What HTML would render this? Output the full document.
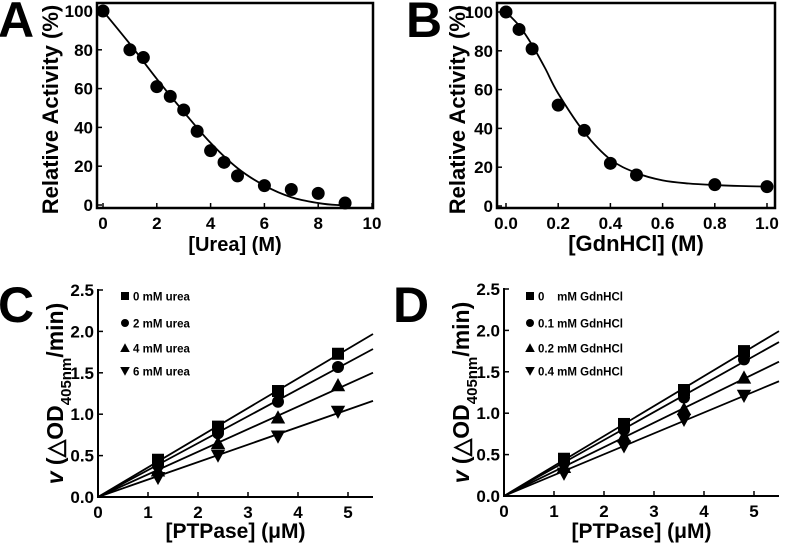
<!DOCTYPE html>
<html><head><meta charset="utf-8">
<style>
html,body{margin:0;padding:0;background:#fff;width:787px;height:548px;overflow:hidden}
svg{display:block;font-family:"Liberation Sans",Arial,sans-serif;font-weight:bold}
</style></head>
<body>
<svg id="fig" width="787" height="548" viewBox="0 0 787 548"></svg>
<script>
// Panel A data
const aX = [0,1,1.5,2,2.5,3,3.5,4,4.5,5,6,7,8,9];
const aY = [100,80,76,61,56,49,38,28,22,15,10,8,6,1];
const aFitX = [0,1,2,3,4,5,6,7,8,8.7,9];
const aFitY = [100,83,65,48,32,19,10,4,1,0,0.3];
const aXTicks = [0,2,4,6,8,10];
const aYTicks = [0,20,40,60,80,100];
// Panel B data
const bX = [0,0.05,0.1,0.2,0.3,0.4,0.5,0.8,1.0];
const bY = [100,91,81,52,39,22,16,11,10];
const bFitX = [0,0.05,0.1,0.15,0.2,0.3,0.4,0.5,0.6,0.7,0.8,0.9,1.0];
const bFitY = [100,93,83,71,58,38,24,17,13.2,11.6,10.8,10.3,10];
const bXTicks = [0,0.2,0.4,0.6,0.8,1.0];
const bYTicks = [0,20,40,60,80,100];
// Panel C data
const cX = [1.2,2.4,3.6,4.8];
const cY0 = [0.45,0.85,1.28,1.73];
const cY2 = [0.38,0.77,1.15,1.57];
const cY4 = [0.32,0.65,0.96,1.35];
const cY6 = [0.23,0.50,0.73,1.03];
const cSlopes = [0.358,0.325,0.273,0.211];
const cLabels = ["0 mM urea","2 mM urea","4 mM urea","6 mM urea"];
// Panel D data
const dX = [1.2,2.4,3.6,4.8];
const dY0 = [0.45,0.87,1.28,1.75];
const dY1 = [0.40,0.80,1.19,1.65];
const dY2 = [0.35,0.72,1.05,1.43];
const dY4 = [0.27,0.60,0.92,1.21];
const dSlopes = [0.362,0.338,0.295,0.252];
const dLabels = ["0    mM GdnHCl","0.1 mM GdnHCl","0.2 mM GdnHCl","0.4 mM GdnHCl"];
const kXTicks = [0,1,2,3,4,5];
const kYTicks = [0,0.5,1.0,1.5,2.0,2.5];

const NS="http://www.w3.org/2000/svg";
const svg=document.getElementById('fig');
function el(tag,attrs,parent){const e=document.createElementNS(NS,tag);for(const k in attrs)e.setAttribute(k,attrs[k]);(parent||svg).appendChild(e);return e;}
function txt(s,attrs,parent){const e=el('text',attrs,parent);e.textContent=s;return e;}
function lin(d0,d1,p0,p1){return v=>p0+(v-d0)/(d1-d0)*(p1-p0);}
function smooth(pts){let d=`M${pts[0][0]},${pts[0][1]}`;for(let i=0;i<pts.length-1;i++){const p0=pts[i-1]||pts[i],p1=pts[i],p2=pts[i+1],p3=pts[i+2]||p2;d+=` C${p1[0]+(p2[0]-p0[0])/6},${p1[1]+(p2[1]-p0[1])/6} ${p2[0]-(p3[0]-p1[0])/6},${p2[1]-(p3[1]-p1[1])/6} ${p2[0]},${p2[1]}`;}return d;}
function marker(kind,x,y,s,parent){
  if(kind==='square') return el('rect',{x:x-s,y:y-s,width:2*s,height:2*s,fill:'#000'},parent);
  if(kind==='circle') return el('circle',{cx:x,cy:y,r:s,fill:'#000'},parent);
  if(kind==='up') return el('polygon',{points:`${x},${y-s*1.2} ${x-s*1.2},${y+s} ${x+s*1.2},${y+s}`,fill:'#000'},parent);
  return el('polygon',{points:`${x-s*1.2},${y-s} ${x+s*1.2},${y-s} ${x},${y+s*1.2}`,fill:'#000'},parent);
}

// ---------- Panel A / B ----------
function curvePanel(o){
  const g=el('g',{});
  
  
  const sx=lin(o.xd[0],o.xd[1],o.xp[0],o.xp[1]), sy=lin(0,100,o.y0,o.y100);
  const fr=el('rect',{x:o.box[0],y:o.box[1],width:o.box[2]-o.box[0],height:o.box[3]-o.box[1],fill:'none',stroke:'#000','stroke-width':2.5},g);
  
  
  o.xt.forEach(t=>{el('line',{x1:sx(t),x2:sx(t),y1:o.box[3],y2:o.box[3]-5,stroke:'#000','stroke-width':1.5},g);
    const l=txt(o.fmtX(t),{x:sx(t),y:o.box[3]+21,'font-size':17,'text-anchor':'middle'},g);
    
    });
  o.yt.forEach(t=>{el('line',{x1:o.box[0],x2:o.box[0]+5,y1:sy(t),y2:sy(t),stroke:'#000','stroke-width':1.5},g);
    const l=txt(String(t),{x:o.box[0]-4,y:sy(t)+6,'font-size':17,'text-anchor':'end'},g);
    
    });
  const pts=o.fx.map((x,i)=>[sx(x),sy(o.fy[i])]);
  const c=el('path',{d:smooth(pts),fill:'none',stroke:'#000','stroke-width':1.8},g);
  
  
  o.px.forEach((x,i)=>{const m=marker('circle',sx(x),sy(o.py[i]),6.5,g);
    
    });
  const yt=txt('Relative Activity (%)',{x:0,y:0,'font-size':22,'text-anchor':'middle',transform:`translate(${o.ylx},${(o.box[1]+o.box[3])/2+4}) rotate(-90)`},g);
  
  
  const xt=txt(o.xtitle,{x:(o.box[0]+o.box[2])/2,y:251,'font-size':o.xfs,'text-anchor':'middle'},g);
  
  
  const L=txt(o.letter,{x:o.lx,y:37,'font-size':50},g);
  
  
}
curvePanel({name:'panel-a',letter:'A',lx:-2,box:[97,3,373,208],xd:[0,10],xp:[103,372],y0:205,y100:11,
  xt:aXTicks,yt:aYTicks,fmtX:t=>String(t),px:aX,py:aY,fx:aFitX,fy:aFitY,ylx:58,xtitle:'[Urea] (M)',xfs:20});
curvePanel({name:'panel-b',letter:'B',lx:406,box:[497,3,775,208],xd:[0,1],xp:[506,767],y0:206,y100:12,
  xt:bXTicks,yt:bYTicks,fmtX:t=>t.toFixed(1),px:bX,py:bY,fx:bFitX,fy:bFitY,ylx:465,xtitle:'[GdnHCl] (M)',xfs:22});

// ---------- Panel C / D ----------
function kinPanel(o){
  const g=el('g',{});
  
  
  const sx=lin(0,5,o.x0,o.x5), sy=lin(0,2.5,o.y0,o.y25);
  const xr=sx(5.5);
  const ax=el('path',{d:`M${o.x0},${sy(2.5)-1} V${o.y0} H${xr}`,fill:'none',stroke:'#000','stroke-width':2},g);
  
  
  kXTicks.forEach(t=>{el('line',{x1:sx(t),x2:sx(t),y1:o.y0,y2:o.y0-5,stroke:'#000','stroke-width':1.5},g);
    const l=txt(String(t),{x:sx(t),y:o.y0+21,'font-size':17,'text-anchor':'middle'},g);
    
    });
  kYTicks.forEach(t=>{el('line',{x1:o.x0,x2:o.x0+5,y1:sy(t),y2:sy(t),stroke:'#000','stroke-width':1.5},g);
    const l=txt(t.toFixed(1),{x:o.x0-4,y:sy(t)+6,'font-size':17,'text-anchor':'end'},g);
    
    });
  const kinds=['square','circle','up','down'];
  o.series.forEach((ys,k)=>{
    const ln=el('line',{x1:sx(0),y1:sy(0),x2:xr,y2:sy(o.slopes[k]*5.5),stroke:'#000','stroke-width':1.8},g);
    
    
    o.xs.forEach((x,i)=>{const m=marker(kinds[k],sx(x),sy(ys[i]),6,g);
      
      });
    const ly=[296,323,348,371][k];
    const lm=marker(kinds[k],o.legx,ly,4,g);
    
    
    const lt=txt(o.labels[k],{x:o.legx+8,y:ly+4.5,'font-size':11.5,style:'white-space:pre'},g);
    
    
  });
  const yt=txt('',{x:0,y:0,'font-size':23,'text-anchor':'middle',transform:`translate(${o.ylx},${(o.y0+sy(2.5))/2}) rotate(-90)`},g);
  
  
  yt.innerHTML='<tspan font-style="italic">v</tspan> (△OD<tspan font-size="15" dy="8">405nm</tspan><tspan dy="-8">/min)</tspan>';
  const xt=txt('[PTPase] (μM)',{x:(o.x0+xr)/2,y:538,'font-size':21,'text-anchor':'middle'},g);
  
  
  const L=txt(o.letter,{x:o.lx,y:322,'font-size':50},g);
  
  
}
kinPanel({name:'panel-c',letter:'C',lx:-2,x0:98,x5:348,y0:497,y25:290,series:[cY0,cY2,cY4,cY6],xs:cX,slopes:cSlopes,labels:cLabels,legx:125,ylx:63});
kinPanel({name:'panel-d',letter:'D',lx:393,x0:504,x5:754,y0:496,y25:289,series:[dY0,dY1,dY2,dY4],xs:dX,slopes:dSlopes,labels:dLabels,legx:530,ylx:469});
</script>
</body></html>
